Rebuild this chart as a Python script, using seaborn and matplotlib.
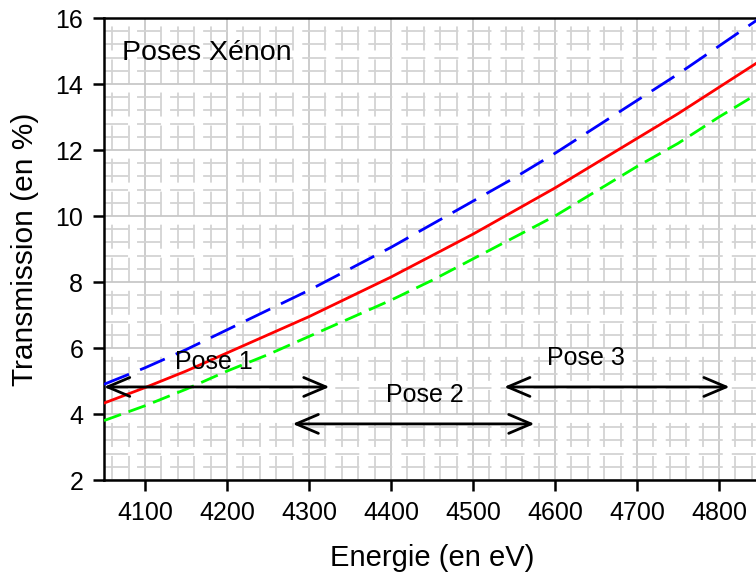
import numpy as np
import pandas as pd
import matplotlib
matplotlib.use("Agg")
import matplotlib.pyplot as plt
from matplotlib.ticker import MultipleLocator
import seaborn as sns

# ===============================
# DATA
# ===============================
energie = [4050, 4100, 4150, 4200, 4250, 4300, 4350, 4400, 4450,
           4500, 4550, 4600, 4650, 4700, 4750, 4800, 4850]
trans_bleu = [4.9, 5.4, 5.95, 6.55, 7.15, 7.75, 8.4, 9.05, 9.75,
              10.45, 11.15, 11.9, 12.7, 13.5, 14.3, 15.15, 16.0]
trans_rouge = [4.33, 4.8, 5.3, 5.85, 6.4, 6.95, 7.55, 8.15, 8.8,
               9.45, 10.15, 10.85, 11.6, 12.35, 13.1, 13.9, 14.7]
trans_vert = [3.8, 4.25, 4.75, 5.3, 5.8, 6.35, 6.9, 7.45, 8.05,
              8.7, 9.35, 10.0, 10.75, 11.5, 12.2, 13.0, 13.75]

poses = ["Pose 1", "Pose 2", "Pose 3"]
pose_debut = [4050, 4280, 4538]
pose_fin = [4325, 4575, 4813]
pose_y = [4.82, 3.70, 4.82]
pose_label_x = [4184, 4441, 4638]
pose_label_y = [5.58, 4.58, 5.70]

df = pd.DataFrame({
    "energie": energie,
    "bleu": trans_bleu,
    "rouge": trans_rouge,
    "vert": trans_vert,
})

# ===============================
# STYLE
# ===============================
sns.set_style("white")
plt.rcParams["font.family"] = ["Liberation Sans", "DejaVu Sans"]
plt.rcParams["text.color"] = "black"
plt.rcParams["axes.labelcolor"] = "black"
plt.rcParams["xtick.color"] = "black"
plt.rcParams["ytick.color"] = "black"

fig = plt.figure(figsize=(7.56, 5.81), dpi=100)
ax = fig.add_axes([104 / 756, 1 - 480 / 581, 656 / 756, 462 / 581])

# ===============================
# COURBES
# ===============================
sns.lineplot(data=df, x="energie", y="bleu", ax=ax, color="#0000ff",
             lw=2.0, linestyle=(0, (9.7, 4.3)), zorder=3)
sns.lineplot(data=df, x="energie", y="rouge", ax=ax, color="#ff0000",
             lw=2.0, zorder=3)
sns.lineplot(data=df, x="energie", y="vert", ax=ax, color="#00ff00",
             lw=2.0, linestyle=(0, (6.5, 2.9)), zorder=3)

# fleches des poses
for nom, x0, x1, y, lx, ly in zip(poses, pose_debut, pose_fin, pose_y,
                                  pose_label_x, pose_label_y):
    ax.annotate("", xy=(x1, y), xytext=(x0, y),
                arrowprops=dict(arrowstyle="<->,head_length=0.8,head_width=0.34",
                                lw=2.0, color="black", shrinkA=0, shrinkB=0,
                                mutation_scale=20),
                zorder=4)
    ax.text(lx, ly, nom, fontsize=18, ha="center", va="center", zorder=5)

ax.text(4072, 14.94, "Poses Xénon", fontsize=20.5, ha="left", va="center")

# ===============================
# AXES
# ===============================
ax.set_xlim(4050, 4850)
ax.set_ylim(2, 16)
ax.xaxis.set_major_locator(MultipleLocator(100))
ax.xaxis.set_minor_locator(MultipleLocator(20))
ax.yaxis.set_major_locator(MultipleLocator(2))
ax.yaxis.set_minor_locator(MultipleLocator(0.4))

ax.grid(which="major", color="#c4c4c4", lw=1.2, zorder=0)
ax.grid(which="minor", color="#d3d3d3", lw=1.3,
        linestyle=(0, (13.3, 5.0)), zorder=0)
ax.set_axisbelow(True)

ax.tick_params(which="major", direction="out", length=8, width=1.8,
               labelsize=18, color="black", labelcolor="black", pad=7,
               bottom=True, left=True, top=False, right=False)
ax.tick_params(which="minor", length=0)

for side in ["left", "bottom", "top", "right"]:
    ax.spines[side].set_color("black")
    ax.spines[side].set_linewidth(1.8)

ax.set_xlabel("Energie (en eV)", fontsize=21, labelpad=14, color="black")
ax.set_ylabel("Transmission (en %)", fontsize=21.5, labelpad=12, color="black")

fig.savefig("out.png", dpi=100)
